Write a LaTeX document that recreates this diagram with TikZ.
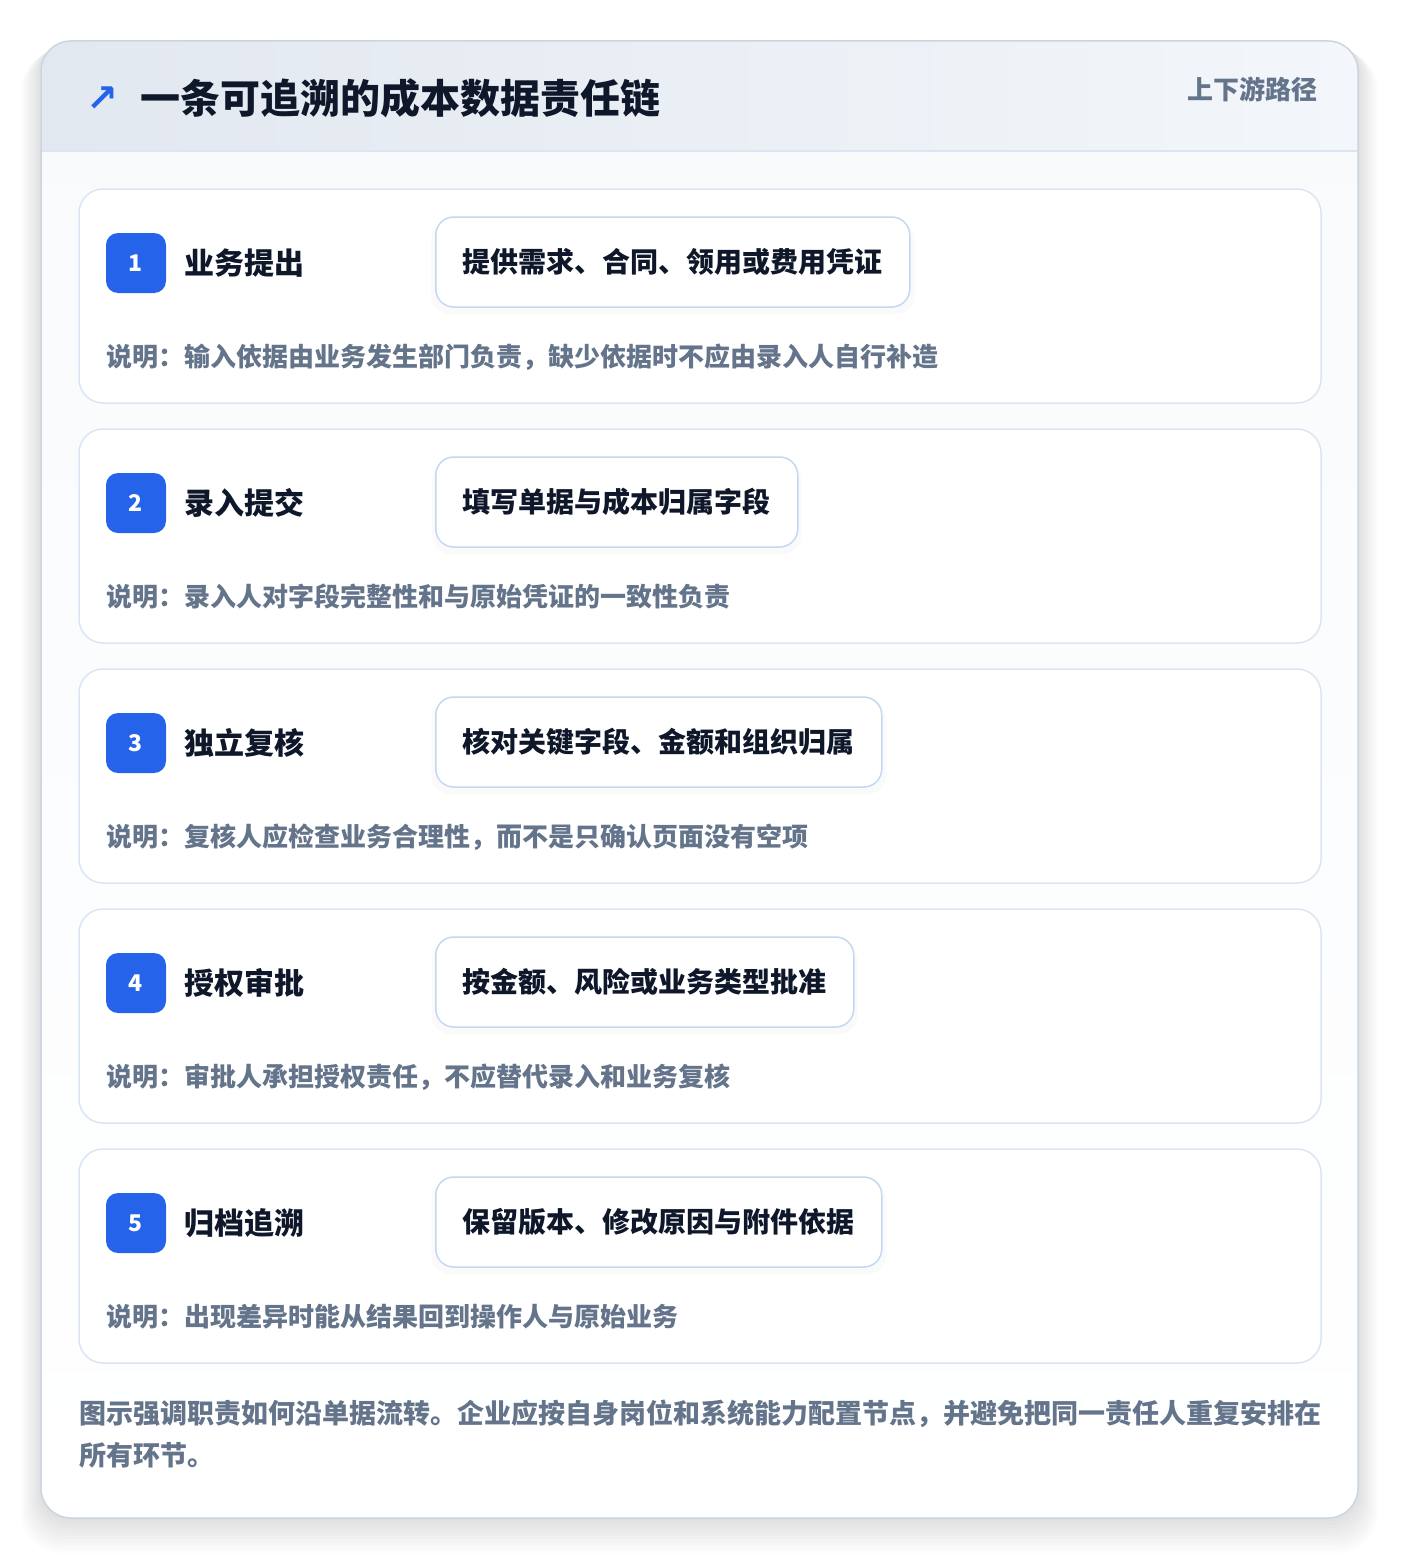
\documentclass[tikz,border=0pt]{standalone}
\usepackage{fontspec}
\setmainfont{Noto Sans CJK SC}
\newfontfamily\arrowfont{DejaVu Sans}
\usetikzlibrary{shadows}
\definecolor{accent}{HTML}{2563EB}
\definecolor{ink}{HTML}{0F172A}
\definecolor{muted}{HTML}{64748B}
\definecolor{edge}{HTML}{DBE6F5}
\definecolor{pilledge}{HTML}{C3D8F3}
\definecolor{frame}{HTML}{CBD5E1}
\definecolor{headl}{HTML}{E2E8F0}
\definecolor{headr}{HTML}{F3F6FA}
\definecolor{paper}{HTML}{F8FAFC}

\tikzset{
    stepcard/.style={draw=edge, line width=1.5, fill=white, rounded corners=24},
    badge/.style={fill=accent, rounded corners=12, minimum size=60, inner sep=0, text=white, font=\fontsize{23}{23}\selectfont\bfseries},
    stagename/.style={anchor=west, inner sep=0, text=ink, font=\fontsize{30}{30}\selectfont\bfseries},
    dutybox/.style={anchor=west, draw=pilledge, line width=1.5, fill=white, rounded corners=18, minimum height=90, inner xsep=27, text=ink, font=\fontsize{28}{28}\selectfont\bfseries, drop shadow={opacity=0.035, shadow xshift=0pt, shadow yshift=-6pt, shadow scale=1.02}},
    remark/.style={anchor=west, inner sep=0, text=muted, font=\fontsize{26}{26}\selectfont\bfseries},
}

\begin{document}
\begin{tikzpicture}[x=1pt, y=-1pt]
    \useasboundingbox (0,0) rectangle (1400,1560);
    \fill[white] (0,0) rectangle (1400,1560);

    % soft shadow under the card
    \foreach \s in {1,...,10} {
        \fill[black, opacity=0.01, rounded corners=30+\s] (41-\s*2,41+\s) rectangle (1358+\s*2,1518+\s*3.5);
    }

    % card and header band
    \fill[top color=paper, bottom color=white, rounded corners=30] (41,41) rectangle (1358,1518);
    \begin{scope}
        \clip[rounded corners=30] (41,41) rectangle (1358,1518);
        \shade[left color=headl, right color=headr] (41,41) rectangle (1358,151);
    \end{scope}
    \draw[edge, line width=1.5] (41,151) -- (1358,151);
    \draw[frame, line width=1.5, rounded corners=30] (41,41) rectangle (1358,1518);

    \node (icon) [text=accent, inner sep=0, font=\arrowfont\bfseries\fontsize{38}{38}\selectfont] at (102,99) {↗};
    \node (title) [anchor=west, inner sep=0, text=ink, font=\fontsize{40}{40}\selectfont\bfseries] at (140,98) {一条可追溯的成本数据责任链};
    \node (route) [anchor=east, inner sep=0, text=muted, font=\fontsize{26}{26}\selectfont\bfseries] at (1318,89) {上下游路径};

    % the five steps
    \foreach \n/\stage/\duty/\remarktext in {
        1/业务提出/提供需求、合同、领用或费用凭证/说明：输入依据由业务发生部门负责，缺少依据时不应由录入人自行补造,
        2/录入提交/填写单据与成本归属字段/说明：录入人对字段完整性和与原始凭证的一致性负责,
        3/独立复核/核对关键字段、金额和组织归属/说明：复核人应检查业务合理性，而不是只确认页面没有空项,
        4/授权审批/按金额、风险或业务类型批准/说明：审批人承担授权责任，不应替代录入和业务复核,
        5/归档追溯/保留版本、修改原因与附件依据/说明：出现差异时能从结果回到操作人与原始业务} {
        \pgfmathsetmacro\ytop{189+240*(\n-1)}
        \draw[stepcard] (79,\ytop) rectangle (1321,\ytop+214);
        \node[badge] (badge\n) at (136,\ytop+74) {\n};
        \node[stagename] (stage\n) at (184,\ytop+74) {\stage};
        \node[dutybox] (duty\n) at (435,\ytop+73) {\duty};
        \node[remark] (remark\n) at (106,\ytop+168) {\remarktext};
    }

    \node (footer) [anchor=north west, inner sep=0, align=left, text=muted, font=\fontsize{27}{42}\selectfont\bfseries] at (79,1400) {图示强调职责如何沿单据流转。企业应按自身岗位和系统能力配置节点，并避免把同一责任人重复安排在\\所有环节。};
\end{tikzpicture}
\end{document}
